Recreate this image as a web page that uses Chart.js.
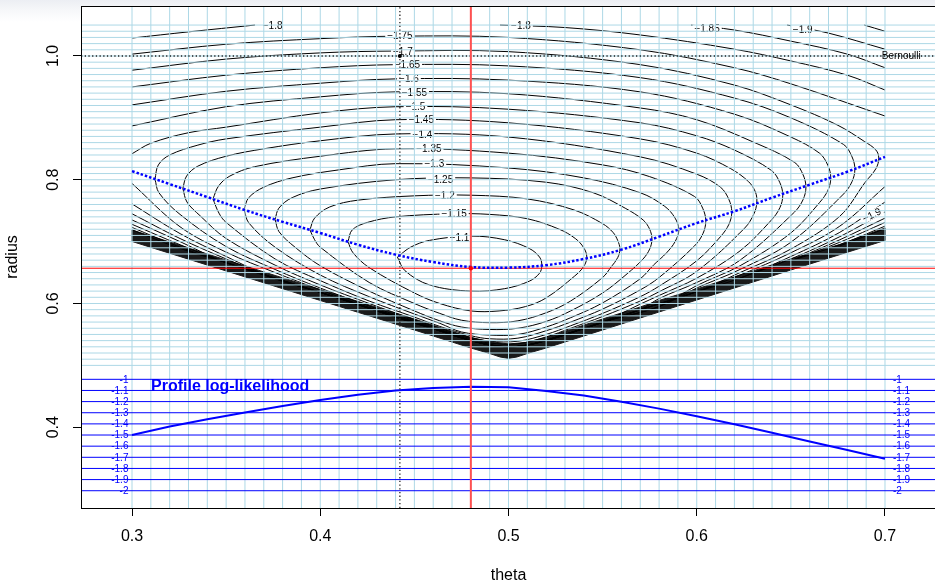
<!DOCTYPE html>
<html>
<head>
<meta charset="utf-8">
<script src="https://cdn.jsdelivr.net/npm/chart.js@4.4.1/dist/chart.umd.min.js"></script>
<style>
  html, body { margin: 0; padding: 0; overflow: hidden; background: linear-gradient(#eceef3 0px, #f6f7f9 10px, #ffffff 22px); }
  #wrap { width: 960px; height: 584px; position: relative; }
</style>
</head>
<body>
<div id="wrap"><canvas id="chart"></canvas></div>
<script>
// --- axes ---
const thetaTicks = [0.3, 0.4, 0.5, 0.6, 0.7];
const radiusTicks = [0.4, 0.6, 0.8, 1.0];
const thetaRange = [0.2729, 0.7271];
const radiusRange = [0.2695, 1.0808];
const loglikRange = [-2.155, 2.351];

// light blue reference grid (every 0.01)
const gridTheta = [];
for (let i = 30; i <= 70; i++) gridTheta.push(i / 100);
const gridRadius = [];
for (let i = 50; i <= 105; i++) gridRadius.push(i / 100);

// estimates
const thetaHat = 0.48, radiusHat = 0.657;
const thetaBernoulli = 0.4423, radiusBernoulli = 1.0;

// profile: best radius and profile log-likelihood per theta
const profileTheta = [0.30,0.32,0.34,0.36,0.38,0.40,0.42,0.44,0.46,0.48,0.50,0.52,0.54,0.56,0.58,0.60,0.62,0.64,0.66,0.68,0.70];
const profileRadius = [0.814,0.793,0.772,0.751,0.732,0.714,0.695,0.679,0.667,0.659,0.658,0.662,0.672,0.687,0.708,0.730,0.749,0.771,0.792,0.813,0.837];
const profileLoglik = [-1.500,-1.424,-1.359,-1.298,-1.239,-1.186,-1.139,-1.100,-1.078,-1.066,-1.072,-1.104,-1.146,-1.202,-1.263,-1.332,-1.404,-1.479,-1.558,-1.634,-1.713];

const loglikLevels = [-1, -1.1, -1.2, -1.3, -1.4, -1.5, -1.6, -1.7, -1.8, -1.9, -2];
const loglikLabels = ['-1', '-1.1', '-1.2', '-1.3', '-1.4', '-1.5', '-1.6', '-1.7', '-1.8', '-1.9', '-2'];

// --- contour lines of the log-likelihood, [theta, radius] ---
const c110 = [[0.441,0.675],[0.448,0.691],[0.458,0.702],[0.480,0.709],[0.498,0.703],[0.511,0.689],[0.5165,0.675],[0.5177,0.662],[0.5165,0.649],[0.511,0.636],[0.498,0.624],[0.480,0.620],[0.458,0.630],[0.445,0.653],[0.441,0.675]];
const c115 = [[0.4147,0.700],[0.417,0.719],[0.425,0.731],[0.44,0.740],[0.47,0.745],[0.49,0.744],[0.51,0.737],[0.527,0.720],[0.5355,0.705],[0.540,0.690],[0.5416,0.675],[0.540,0.660],[0.535,0.644],[0.52,0.609],[0.509,0.595],[0.495,0.588],[0.48,0.588],[0.4635,0.600],[0.45,0.617],[0.426,0.658],[0.4174,0.682],[0.4147,0.700]];
const c120 = [[0.3945,0.719],[0.397,0.738],[0.405,0.756],[0.42,0.767],[0.45,0.774],[0.48,0.775],[0.51,0.769],[0.535,0.751],[0.55,0.729],[0.5555,0.715],[0.558,0.702],[0.5592,0.688],[0.558,0.674],[0.5545,0.659],[0.55,0.642],[0.533,0.604],[0.52,0.585],[0.505,0.572],[0.49,0.569],[0.475,0.573],[0.4635,0.584],[0.45,0.600],[0.426,0.634],[0.40,0.691],[0.397,0.703],[0.3945,0.719]];
const c125 = [[0.376,0.736],[0.378,0.754],[0.385,0.771],[0.40,0.785],[0.44,0.800],[0.48,0.803],[0.52,0.796],[0.545,0.779],[0.562,0.754],[0.5715,0.735],[0.575,0.720],[0.5762,0.704],[0.575,0.688],[0.5715,0.672],[0.563,0.648],[0.55,0.617],[0.533,0.588],[0.52,0.571],[0.505,0.560],[0.49,0.558],[0.475,0.562],[0.4635,0.572],[0.45,0.588],[0.426,0.620],[0.40,0.661],[0.3866,0.691],[0.3781,0.716],[0.376,0.736]];
const c130 = [[0.3595,0.752],[0.362,0.771],[0.37,0.788],[0.385,0.803],[0.41,0.816],[0.44,0.826],[0.50,0.819],[0.54,0.803],[0.57,0.779],[0.583,0.757],[0.5885,0.738],[0.5905,0.719],[0.5885,0.700],[0.584,0.682],[0.577,0.662],[0.57,0.640],[0.55,0.601],[0.533,0.577],[0.52,0.562],[0.505,0.550],[0.49,0.549],[0.475,0.554],[0.4635,0.568],[0.45,0.583],[0.426,0.611],[0.40,0.646],[0.376,0.691],[0.3621,0.730],[0.3595,0.752]];
const c135 = [[0.343,0.769],[0.346,0.790],[0.352,0.806],[0.365,0.821],[0.40,0.838],[0.44,0.850],[0.50,0.843],[0.55,0.824],[0.575,0.805],[0.5988,0.773],[0.6033,0.753],[0.6048,0.733],[0.6033,0.713],[0.5988,0.693],[0.58,0.642],[0.57,0.622],[0.55,0.591],[0.533,0.570],[0.52,0.556],[0.505,0.544],[0.49,0.543],[0.48,0.548],[0.4635,0.563],[0.45,0.578],[0.426,0.604],[0.40,0.637],[0.376,0.672],[0.35,0.731],[0.3462,0.746],[0.343,0.769]];
const c140 = [[0.327,0.786],[0.329,0.806],[0.335,0.822],[0.35,0.838],[0.37,0.850],[0.40,0.863],[0.44,0.874],[0.50,0.869],[0.57,0.837],[0.60,0.809],[0.6126,0.788],[0.6171,0.768],[0.6186,0.748],[0.6171,0.728],[0.6126,0.708],[0.60,0.669],[0.58,0.628],[0.57,0.611],[0.55,0.584],[0.533,0.564],[0.52,0.550],[0.505,0.539],[0.49,0.539],[0.48,0.545],[0.4635,0.560],[0.45,0.574],[0.426,0.600],[0.40,0.630],[0.376,0.662],[0.35,0.705],[0.3361,0.742],[0.3292,0.764],[0.327,0.786]];
const c145 = [[0.3122,0.801],[0.314,0.824],[0.32,0.840],[0.335,0.856],[0.35,0.866],[0.40,0.885],[0.44,0.897],[0.50,0.892],[0.57,0.866],[0.60,0.843],[0.618,0.818],[0.6275,0.797],[0.6312,0.780],[0.6319,0.763],[0.6304,0.745],[0.6255,0.722],[0.60,0.652],[0.58,0.619],[0.57,0.604],[0.55,0.579],[0.533,0.560],[0.52,0.546],[0.505,0.535],[0.49,0.536],[0.48,0.543],[0.4635,0.558],[0.45,0.572],[0.426,0.596],[0.40,0.625],[0.376,0.655],[0.35,0.692],[0.3255,0.744],[0.3143,0.779],[0.3122,0.801]];
const c150 = [[0.30,0.842],[0.31,0.859],[0.33,0.876],[0.35,0.885],[0.40,0.908],[0.44,0.918],[0.50,0.914],[0.57,0.892],[0.60,0.871],[0.62,0.848],[0.6397,0.815],[0.6442,0.795],[0.6457,0.775],[0.6442,0.755],[0.6397,0.735],[0.623,0.685],[0.60,0.641],[0.58,0.613],[0.57,0.599],[0.55,0.570],[0.533,0.553],[0.52,0.540],[0.509,0.532],[0.50,0.530],[0.49,0.534],[0.48,0.540],[0.4635,0.556],[0.45,0.570],[0.426,0.593],[0.40,0.622],[0.376,0.650],[0.35,0.683],[0.3255,0.724],[0.30,0.794]];
const c155 = [[0.30,0.887],[0.35,0.918],[0.40,0.934],[0.44,0.942],[0.50,0.939],[0.57,0.916],[0.60,0.897],[0.63,0.861],[0.652,0.828],[0.6565,0.808],[0.658,0.788],[0.6565,0.768],[0.652,0.748],[0.623,0.670],[0.60,0.634],[0.58,0.608],[0.57,0.590],[0.55,0.570],[0.52,0.540],[0.50,0.530],[0.48,0.540],[0.45,0.570],[0.40,0.618],[0.376,0.640],[0.35,0.676],[0.3255,0.713],[0.30,0.761]];
const c160 = [[0.30,0.921],[0.35,0.943],[0.40,0.956],[0.44,0.963],[0.50,0.961],[0.57,0.942],[0.62,0.906],[0.65,0.869],[0.6652,0.843],[0.6697,0.823],[0.6712,0.803],[0.6697,0.783],[0.6652,0.763],[0.65,0.714],[0.623,0.661],[0.60,0.629],[0.58,0.595],[0.55,0.570],[0.52,0.540],[0.50,0.530],[0.48,0.540],[0.45,0.570],[0.40,0.618],[0.376,0.640],[0.35,0.672],[0.3255,0.705],[0.30,0.745]];
const c165 = [[0.30,0.950],[0.35,0.969],[0.40,0.981],[0.44,0.986],[0.50,0.984],[0.57,0.965],[0.62,0.932],[0.65,0.900],[0.678,0.857],[0.6825,0.837],[0.684,0.817],[0.6825,0.797],[0.678,0.777],[0.65,0.699],[0.623,0.655],[0.60,0.625],[0.58,0.595],[0.55,0.570],[0.52,0.540],[0.50,0.530],[0.48,0.540],[0.45,0.570],[0.40,0.618],[0.35,0.666],[0.3255,0.700],[0.30,0.735]];
const c170 = [[0.30,0.977],[0.35,0.995],[0.40,1.005],[0.44,1.008],[0.50,1.007],[0.57,0.986],[0.62,0.953],[0.65,0.921],[0.675,0.888],[0.689,0.862],[0.6952,0.848],[0.6967,0.835],[0.6952,0.818],[0.6895,0.796],[0.676,0.741],[0.65,0.688],[0.623,0.650],[0.60,0.619],[0.57,0.590],[0.533,0.553],[0.50,0.530],[0.4635,0.556],[0.40,0.618],[0.35,0.666],[0.3255,0.695],[0.30,0.728]];
const c175a = [[0.30,1.003],[0.35,1.019],[0.40,1.028],[0.44,1.032],[0.50,1.030],[0.57,1.010],[0.62,0.981],[0.65,0.955],[0.70,0.903]];
const c175b = [[0.70,0.789],[0.676,0.725],[0.65,0.682],[0.623,0.646],[0.60,0.619],[0.57,0.590],[0.533,0.553],[0.50,0.530],[0.4635,0.556],[0.40,0.618],[0.35,0.666],[0.3255,0.691],[0.30,0.723]];
const c180a = [[0.30,1.029],[0.33,1.039],[0.3653,1.050]];
const c180b = [[0.4955,1.050],[0.53,1.046],[0.57,1.034],[0.62,1.011],[0.65,0.992],[0.68,0.969],[0.70,0.945]];
const c180c = [[0.70,0.764],[0.676,0.715],[0.65,0.676],[0.623,0.641],[0.60,0.619],[0.57,0.590],[0.533,0.553],[0.50,0.530],[0.4635,0.556],[0.40,0.618],[0.35,0.666],[0.3255,0.689],[0.30,0.719]];
const c185a = [[0.597,1.050],[0.62,1.042],[0.65,1.024],[0.68,1.003],[0.70,0.981]];
const c185b = [[0.70,0.748],[0.676,0.708],[0.65,0.672],[0.623,0.641]];
const c190a = [[0.648,1.050],[0.67,1.037],[0.70,1.011]];
const c190b = [[0.70,0.738],[0.676,0.703],[0.65,0.669]];
const c195a = [[0.689,1.050],[0.70,1.040]];
const c195b = [[0.70,0.731],[0.676,0.699],[0.65,0.669]];
const c200b = [[0.70,0.725],[0.676,0.695],[0.65,0.669]];
const c205b = [[0.70,0.721],[0.676,0.693]];

// dense contour band along the lower edge of the valid region
const bandUpper = [[0.300,0.7188],[0.3255,0.6941],[0.350,0.6703],[0.376,0.6453],[0.400,0.6227],[0.426,0.5976],[0.450,0.5750],[0.4635,0.5613],[0.480,0.5451],[0.490,0.5386],[0.500,0.5346],[0.509,0.5370],[0.520,0.5451],[0.533,0.5580],[0.550,0.5750],[0.570,0.5944],[0.580,0.6049],[0.600,0.6235],[0.623,0.6461],[0.650,0.6720],[0.676,0.6954],[0.700,0.7221]];
const bandLower = [[0.700,0.7019],[0.650,0.6542],[0.600,0.6057],[0.550,0.5572],[0.520,0.5281],[0.510,0.5192],[0.5045,0.5136],[0.500,0.5112],[0.4955,0.5136],[0.490,0.5192],[0.480,0.5281],[0.450,0.5572],[0.400,0.6049],[0.350,0.6526],[0.300,0.7003]];

const contourPieces = [c110, c115, c120, c125, c130, c135, c140, c145, c150, c155, c160, c165, c170,
  c175a, c175b, c180a, c180b, c180c, c185a, c185b, c190a, c190b, c195a, c195b, c200b, c205b];

// contour labels: text, theta, radius, rotation (deg)
const contourLabels = [
  ['\u22121.8', 0.3747, 1.0485, 0], ['\u22121.75', 0.4423, 1.0323, 0], ['\u22121.7', 0.4439, 1.0070, 0],
  ['\u22121.65', 0.4463, 0.9855, 0], ['\u22121.6', 0.4471, 0.9628, 0], ['\u22121.55', 0.4500, 0.9413, 0],
  ['\u22121.5', 0.4506, 0.9181, 0], ['\u22121.45', 0.4537, 0.8966, 0], ['\u22121.4', 0.4543, 0.8735, 0],
  ['\u22121.35', 0.4577, 0.8497, 0], ['\u22121.3', 0.4606, 0.8266, 0], ['\u22121.25', 0.4639, 0.8008, 0],
  ['\u22121.2', 0.4662, 0.7743, 0], ['\u22121.15', 0.4711, 0.7458, 0], ['\u22121.1', 0.4740, 0.7070, 0],
  ['\u22121.8', 0.5066, 1.0485, 0], ['\u22121.85', 0.6055, 1.0436, 0], ['\u22121.9', 0.6563, 1.0430, 0],
  ['\u22121.9', 0.6930, 0.7431, -27]
];

const FONT = '"Liberation Sans", Arial, Helvetica, sans-serif';
const P = arr => arr.map(p => ({ x: p[0], y: p[1] }));
const datasets = [];

// overlays (order 0 = on top)
datasets.push({ data: P([[thetaHat, radiusHat]]), pointRadius: 2.2, pointBackgroundColor: '#ff0000', pointBorderWidth: 0, showLine: false, order: 0 });
datasets.push({ data: P([[thetaBernoulli, radiusBernoulli]]), pointRadius: 2, pointBackgroundColor: '#000', pointBorderWidth: 0, showLine: false, order: 0 });
datasets.push({ data: P(profileTheta.map((t, i) => [t, profileRadius[i]])), borderColor: '#0000ff', borderWidth: 2.5, borderDash: [2.5, 2], tension: 0.4, order: 0 });
datasets.push({ data: P([[thetaHat, radiusRange[0]], [thetaHat, radiusRange[1]]]), borderColor: '#ff5050', borderWidth: 2, order: 0 });
datasets.push({ data: P([[thetaRange[0], radiusHat], [thetaRange[1], radiusHat]]), borderColor: '#ff0000', borderWidth: 1, order: 0 });
datasets.push({ data: P([[thetaBernoulli, radiusRange[0]], [thetaBernoulli, radiusRange[1]]]), borderColor: '#222', borderWidth: 1.3, borderDash: [1.3, 2.4], order: 0 });
datasets.push({ data: P([[thetaRange[0], radiusBernoulli], [thetaRange[1], radiusBernoulli]]), borderColor: '#222', borderWidth: 1.3, borderDash: [1.3, 2.4], order: 0 });
datasets.push({ data: profileTheta.map((t, i) => ({ x: t, y: profileLoglik[i] })), yAxisID: 'yL', borderColor: '#0000ff', borderWidth: 2, tension: 0, order: 0 });
loglikLevels.forEach(l => {
  datasets.push({ data: [{ x: thetaRange[0], y: l }, { x: thetaRange[1], y: l }], yAxisID: 'yL', borderColor: '#0000ff', borderWidth: 1, order: 0 });
});

// grid (order 1)
gridTheta.forEach(t => datasets.push({ kind: 'grid', data: P([[t, radiusRange[0]], [t, radiusRange[1]]]), borderColor: '#add8e6', borderWidth: 1, order: 1 }));
gridRadius.forEach(r => datasets.push({ kind: 'grid', data: P([[thetaRange[0], r], [thetaRange[1], r]]), borderColor: '#add8e6', borderWidth: 1, order: 1 }));

// contours (order 2)
contourPieces.forEach(c => datasets.push({ data: P(c), borderColor: '#000', borderWidth: 1, tension: 0.35, order: 2 }));

// dark band (order 3)
datasets.push({ data: P(bandUpper.concat(bandLower, [bandUpper[0]])), borderColor: '#1a1a1a', borderWidth: 1, backgroundColor: '#1a1a1a', fill: 'shape', tension: 0, order: 3 });

// every dataset is a line unless it says otherwise
datasets.forEach(d => { if (d.showLine === undefined) d.showLine = true; });

function drawContourLabels(chart) {
  const { ctx, scales: { x, y } } = chart;
  ctx.save();
  ctx.font = '10px ' + FONT;
  ctx.textAlign = 'center';
  ctx.textBaseline = 'middle';
  contourLabels.forEach(([txt, t, r, rot]) => {
    const X = x.getPixelForValue(t), Y = y.getPixelForValue(r);
    const w = ctx.measureText(txt).width;
    ctx.save();
    ctx.translate(X, Y);
    ctx.rotate(rot * Math.PI / 180);
    ctx.fillStyle = '#fff';
    ctx.fillRect(-w / 2 - 2, -4.5, w + 4, 9);
    ctx.fillStyle = '#000';
    ctx.fillText(txt, 0, 0.5);
    ctx.restore();
  });
  ctx.restore();
}

const decor = {
  id: 'decor',
  beforeDraw(chart) {
    const { ctx, chartArea: a } = chart;
    ctx.save();
    ctx.fillStyle = '#fff';
    ctx.fillRect(a.left, a.top, a.right - a.left, a.bottom - a.top);
    ctx.restore();
  },
  beforeDatasetsDraw(chart) { chart.$labelsDone = false; },
  beforeDatasetDraw(chart, args) {
    const ds = chart.data.datasets[args.index];
    if (ds.kind === 'grid' && !chart.$labelsDone) {
      drawContourLabels(chart);
      chart.$labelsDone = true;
    }
  },
  afterDraw(chart) {
    const { ctx, chartArea: a, scales: { x, y, yL } } = chart;
    ctx.save();
    // box
    ctx.strokeStyle = '#000';
    ctx.lineWidth = 1;
    ctx.strokeRect(a.left + 0.5, a.top + 0.5, a.right - a.left, a.bottom - a.top);
    // y tick labels (rotated, R style)
    ctx.fillStyle = '#000';
    ctx.font = '16px ' + FONT;
    ctx.textAlign = 'center';
    ctx.textBaseline = 'middle';
    radiusTicks.forEach(v => {
      ctx.save();
      ctx.translate(53.5, y.getPixelForValue(v));
      ctx.rotate(-Math.PI / 2);
      ctx.fillText(v.toFixed(1), 0, 0);
      ctx.restore();
    });
    // profile panel labels
    ctx.fillStyle = '#0000ff';
    ctx.font = '10px ' + FONT;
    loglikLevels.forEach((l, i) => {
      const Y = yL.getPixelForValue(l) + 0.5;
      ctx.textAlign = 'right';
      ctx.fillText(loglikLabels[i], x.getPixelForValue(0.2981), Y);
      ctx.textAlign = 'left';
      ctx.fillText(loglikLabels[i], x.getPixelForValue(0.7042), Y);
    });
    ctx.font = 'bold 16px ' + FONT;
    ctx.textAlign = 'left';
    ctx.textBaseline = 'alphabetic';
    ctx.fillText('Profile log-likelihood', x.getPixelForValue(0.3101), yL.getPixelForValue(-1.105));
    // Bernoulli label
    ctx.fillStyle = '#000';
    ctx.font = '10px ' + FONT;
    ctx.textBaseline = 'middle';
    ctx.fillText('Bernoulli', x.getPixelForValue(0.6983), y.getPixelForValue(radiusBernoulli) + 0.5);
    ctx.restore();
  }
};

new Chart(document.getElementById('chart'), {
  type: 'scatter',
  data: { datasets },
  options: {
    responsive: true,
    maintainAspectRatio: false,
    animation: false,
    events: [],
    layout: { padding: { left: 0, top: 6, right: 24, bottom: 0 } },
    elements: { point: { radius: 0 }, line: { borderCapStyle: 'butt' } },
    plugins: { legend: { display: false }, tooltip: { enabled: false } },
    scales: {
      x: {
        type: 'linear', position: 'bottom', min: thetaRange[0], max: thetaRange[1],
        afterFit: s => { s.height = 76; },
        afterBuildTicks: s => { s.ticks = thetaTicks.map(v => ({ value: v })); },
        ticks: { color: '#000', font: { family: FONT, size: 16 }, padding: 11, autoSkip: false, maxRotation: 0, callback: v => Number(v).toFixed(1) },
        grid: { drawOnChartArea: false, drawTicks: true, tickLength: 8, color: '#000', tickColor: '#000', tickWidth: 1 },
        border: { display: false },
        title: { display: true, text: 'theta', color: '#000', font: { family: FONT, size: 16 }, padding: { top: 0, bottom: -1.5 } }
      },
      y: {
        type: 'linear', position: 'left', min: radiusRange[0], max: radiusRange[1],
        afterFit: s => { s.width = 81; },
        afterBuildTicks: s => { s.ticks = radiusTicks.map(v => ({ value: v })); },
        ticks: { display: false },
        grid: { drawOnChartArea: false, drawTicks: true, tickLength: 8, color: '#000', tickColor: '#000', tickWidth: 1 },
        border: { display: false },
        title: { display: true, text: 'radius', color: '#000', font: { family: FONT, size: 16 }, padding: { top: 3, bottom: 0 } }
      },
      yL: { type: 'linear', position: 'right', display: false, min: loglikRange[0], max: loglikRange[1] }
    }
  },
  plugins: [decor]
});
</script>
</body>
</html>
